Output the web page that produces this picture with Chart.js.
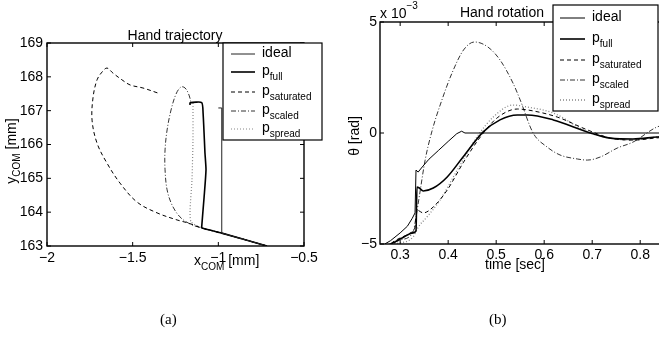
<!DOCTYPE html>
<html>
<head>
<meta charset="utf-8">
<script src="https://cdn.jsdelivr.net/npm/chart.js@4.4.1/dist/chart.umd.min.js"></script>
<style>
  html, body { margin: 0; padding: 0; background: #fff; overflow: hidden; }
  body { width: 659px; height: 343px; position: relative; }
  #wrapA { position: absolute; left: 0; top: 0; width: 330px; height: 343px; }
  #wrapB { position: absolute; left: 330px; top: 0; width: 345px; height: 343px; }
  .cap { position: absolute; top: 311px; font: 15px "Liberation Serif", "Times New Roman", serif; color: #000; }
</style>
</head>
<body>
<div id="wrapA"><canvas id="trajChart"></canvas></div>
<div id="wrapB"><canvas id="rotChart"></canvas></div>
<div class="cap" style="left:160px">(a)</div>
<div class="cap" style="left:489px">(b)</div>

<script>
// ---- (a) hand trajectory, x_COM / y_COM in mm ----
const trajIdealX = [-0.716, -0.98, -0.98, -1.0];
const trajIdealY = [163.0, 163.38, 167.08, 167.08];

const trajFullX = [-0.716, -0.98, -1.095, -1.097, -1.083, -1.072, -1.078, -1.089, -1.097, -1.165, -1.165];
const trajFullY = [163.0, 163.38, 163.53, 163.57, 164.45, 165.25, 165.75, 166.93, 167.24, 167.23, 167.17];

const trajSatX = [-0.716, -0.98, -1.095, -1.177, -1.241, -1.358, -1.475, -1.574, -1.650, -1.708, -1.737,
                  -1.731, -1.708, -1.679, -1.650, -1.615, -1.562, -1.515, -1.440, -1.352];
const trajSatY = [163.0, 163.38, 163.53, 163.68, 163.77, 163.98, 164.30, 164.86, 165.45, 166.04, 166.72,
                  167.40, 167.91, 168.14, 168.26, 168.11, 167.91, 167.76, 167.67, 167.52];

const trajScaledX = [-0.716, -0.98, -1.095, -1.165, -1.224, -1.270, -1.299, -1.311, -1.311, -1.299,
                     -1.276, -1.247, -1.218, -1.194, -1.171, -1.159];
const trajScaledY = [163.0, 163.38, 163.53, 163.65, 163.86, 164.21, 164.66, 165.25, 165.84, 166.43,
                     167.02, 167.49, 167.70, 167.67, 167.46, 167.23];

const trajSpreadX = [-0.716, -0.98, -1.095, -1.159, -1.165, -1.154, -1.148, -1.148];
const trajSpreadY = [163.0, 163.38, 163.53, 163.71, 164.06, 164.93, 166.13, 167.23];

const trajXTicks = [-2, -1.5, -1, -0.5];
const trajXTickLabels = ["\u22122", "\u22121.5", "\u22121", "\u22120.5"];
const trajYTicks = [163, 164, 165, 166, 167, 168, 169];
const trajYTickLabels = ["163", "164", "165", "166", "167", "168", "169"];

// ---- (b) hand rotation, theta in 1e-3 rad ----
const rotIdealT = [0.268, 0.28, 0.30, 0.315, 0.325, 0.331, 0.333, 0.3375, 0.346, 0.36, 0.38, 0.40, 0.418, 0.428, 0.435, 0.86];
const rotIdealV = [-5.0, -4.85, -4.5, -4.2, -3.85, -3.6, -1.67, -1.76, -1.53, -1.18, -0.78, -0.38, -0.03, 0.08, 0.0, 0.0];

const rotFullT = [0.27, 0.285, 0.304, 0.327, 0.333, 0.335, 0.340, 0.348, 0.369, 0.398, 0.431, 0.473,
                  0.508, 0.544, 0.565, 0.619, 0.690, 0.738, 0.785, 0.835, 0.86];
const rotFullV = [-5.1, -4.95, -4.73, -4.50, -4.41, -2.43, -2.48, -2.61, -2.48, -1.98, -1.08, 0.05,
                  0.59, 0.81, 0.81, 0.59, 0.05, -0.23, -0.27, -0.18, -0.15];

const rotSatT = [0.27, 0.285, 0.321, 0.331, 0.335, 0.348, 0.369, 0.398, 0.431, 0.467, 0.502, 0.544,
                 0.565, 0.627, 0.690, 0.738, 0.785, 0.835, 0.86];
const rotSatV = [-5.2, -4.91, -4.50, -4.23, -3.47, -3.60, -3.33, -2.57, -1.35, -0.18, 0.68, 1.08,
                 1.04, 0.72, 0.14, -0.23, -0.32, -0.22, -0.18];

const rotScaledT = [0.27, 0.300, 0.327, 0.332, 0.341, 0.352, 0.367, 0.387, 0.408, 0.432, 0.455, 0.483,
                    0.508, 0.535, 0.550, 0.577, 0.606, 0.633, 0.669, 0.690, 0.717, 0.752, 0.785, 0.835, 0.86];
const rotScaledV = [-5.1, -4.82, -4.46, -3.92, -2.70, -1.22, 0.14, 1.49, 2.70, 3.74, 4.10, 3.87,
                    3.29, 2.25, 1.49, 0.0, -0.63, -0.99, -1.17, -1.22, -1.08, -0.68, -0.41, 0.27, 0.40];

const rotSpreadT = [0.27, 0.279, 0.300, 0.327, 0.338, 0.356, 0.383, 0.419, 0.460, 0.494, 0.535, 0.565,
                    0.619, 0.690, 0.738, 0.785, 0.835, 0.86];
const rotSpreadV = [-5.1, -5.0, -4.95, -4.68, -4.23, -3.78, -3.02, -1.67, -0.18, 0.72, 1.26, 1.17,
                    0.90, 0.05, -0.23, -0.32, -0.18, -0.15];

const rotXTicks = [0.3, 0.4, 0.5, 0.6, 0.7, 0.8];
const rotXTickLabels = ["0.3", "0.4", "0.5", "0.6", "0.7", "0.8"];
const rotYTicks = [-5, 0, 5];
const rotYTickLabels = ["\u22125", "0", "5"];

const seriesLabels = ["ideal", "p_full", "p_saturated", "p_scaled", "p_spread"];

const FONT = '"Liberation Sans", Arial, Helvetica, sans-serif';

function pts(xs, ys) {
  return xs.map((x, i) => ({ x: x, y: ys[i] }));
}

// text with optional subscript / superscript pieces
function drawRich(ctx, parts, x, y, align) {
  let w = 0;
  parts.forEach(p => {
    ctx.font = p.size + "px " + FONT;
    p.w = ctx.measureText(p.t).width;
    w += p.w;
  });
  let cx = align === "center" ? x - w / 2 : x;
  ctx.textAlign = "left";
  ctx.textBaseline = "middle";
  parts.forEach(p => {
    ctx.font = p.size + "px " + FONT;
    ctx.fillText(p.t, cx, y + (p.dy || 0));
    cx += p.w;
  });
}

function labelParts(label) {
  const bits = label.split("_");
  const parts = [{ t: bits[0], size: 14, dy: -1 }];
  if (bits[1]) parts.push({ t: bits[1], size: 10, dy: 5 });
  return parts;
}

const framePlugin = {
  id: "frame",
  afterDraw(chart, args, o) {
    const { ctx, chartArea: a, scales } = chart;
    ctx.save();
    ctx.fillStyle = "#000";
    ctx.strokeStyle = "#000";

    // inward tick marks on all four sides
    ctx.lineWidth = 1;
    ctx.beginPath();
    scales.x.ticks.forEach(t => {
      const px = scales.x.getPixelForValue(t.value);
      ctx.moveTo(px, a.bottom); ctx.lineTo(px, a.bottom - 4);
      ctx.moveTo(px, a.top); ctx.lineTo(px, a.top + 4);
    });
    scales.y.ticks.forEach(t => {
      const py = scales.y.getPixelForValue(t.value);
      ctx.moveTo(a.left, py); ctx.lineTo(a.left + 4, py);
      ctx.moveTo(a.right, py); ctx.lineTo(a.right - 4, py);
    });
    ctx.stroke();

    // axes box
    ctx.lineWidth = 1.4;
    ctx.strokeRect(a.left, a.top, a.right - a.left, a.bottom - a.top);

    // legend
    const L = o.legend;
    ctx.fillStyle = "#fff";
    ctx.fillRect(L.x, L.y, L.w, L.h);
    ctx.lineWidth = 1.2;
    ctx.strokeRect(L.x, L.y, L.w, L.h);
    chart.data.datasets.forEach((ds, i) => {
      const ry = L.rows[i];
      ctx.save();
      ctx.strokeStyle = ds.borderColor;
      ctx.lineWidth = ds.borderWidth;
      ctx.setLineDash(ds.borderDash || []);
      ctx.beginPath();
      ctx.moveTo(L.s1, ry);
      ctx.lineTo(L.s2, ry);
      ctx.stroke();
      ctx.restore();
      ctx.fillStyle = "#000";
      drawRich(ctx, labelParts(ds.label), L.tx, ry, "left");
    });

    // title
    ctx.fillStyle = "#000";
    drawRich(ctx, [{ t: o.title.text, size: 14 }], o.title.x, o.title.y, "center");

    // axis labels
    drawRich(ctx, o.xLabel.parts, o.xLabel.x, o.xLabel.y, o.xLabel.align);
    ctx.save();
    ctx.translate(o.yLabel.x, o.yLabel.y);
    ctx.rotate(-Math.PI / 2);
    drawRich(ctx, o.yLabel.parts, 0, 0, "center");
    ctx.restore();

    if (o.exponent) {
      drawRich(ctx, o.exponent.parts, o.exponent.x, o.exponent.y, "left");
    }
    ctx.restore();
  }
};

function makeScales(xMin, xMax, xTicks, xLabels, yMin, yMax, yTicks, yLabels, yWidth, xHeight, xPad, yPad) {
  const tickFont = { family: FONT, size: 14 };
  return {
    x: {
      type: "linear",
      min: xMin,
      max: xMax,
      grid: { display: false, drawTicks: false },
      border: { display: false },
      afterBuildTicks: s => { s.ticks = xTicks.map(v => ({ value: v })); },
      afterFit: s => { s.height = xHeight; },
      ticks: {
        autoSkip: false,
        maxRotation: 0,
        padding: xPad,
        color: "#000",
        font: tickFont,
        callback: (v, i) => xLabels[i]
      }
    },
    y: {
      type: "linear",
      min: yMin,
      max: yMax,
      grid: { display: false, drawTicks: false },
      border: { display: false },
      afterBuildTicks: s => { s.ticks = yTicks.map(v => ({ value: v })); },
      afterFit: s => { s.width = yWidth; },
      ticks: {
        autoSkip: false,
        padding: yPad,
        color: "#000",
        font: tickFont,
        callback: (v, i) => yLabels[i]
      }
    }
  };
}

const baseOptions = {
  responsive: true,
  maintainAspectRatio: false,
  animation: false,
  events: [],
  elements: { point: { radius: 0 } }
};

/* ========================= */
/* (a) HAND TRAJECTORY       */
/* ========================= */

new Chart(document.getElementById("trajChart"), {
  type: "scatter",
  data: {
    datasets: [
      { label: seriesLabels[0], data: pts(trajIdealX, trajIdealY), showLine: true,
        borderColor: "#222", borderWidth: 1, tension: 0 },
      { label: seriesLabels[1], data: pts(trajFullX, trajFullY), showLine: true,
        borderColor: "#000", borderWidth: 1.6, tension: 0.2 },
      { label: seriesLabels[2], data: pts(trajSatX, trajSatY), showLine: true,
        borderColor: "#000", borderWidth: 1, borderDash: [4, 3], tension: 0.35 },
      { label: seriesLabels[3], data: pts(trajScaledX, trajScaledY), showLine: true,
        borderColor: "#333", borderWidth: 1, borderDash: [5, 2, 1, 2], tension: 0.35 },
      { label: seriesLabels[4], data: pts(trajSpreadX, trajSpreadY), showLine: true,
        borderColor: "#888", borderWidth: 1.2, borderDash: [1, 2], tension: 0.2 }
    ]
  },
  options: Object.assign({}, baseOptions, {
    layout: { padding: { left: 0, top: 43, right: 26, bottom: 0 } },
    plugins: {
      legend: { display: false },
      tooltip: { enabled: false },
      frame: {
        legend: { x: 223, y: 43, w: 99, h: 97, s1: 231, s2: 255, tx: 262, rows: [54, 72, 92, 111, 129] },
        title: { text: "Hand trajectory", x: 175, y: 36 },
        xLabel: { x: 194, y: 261, align: "left",
          parts: [{ t: "x", size: 14 }, { t: "COM", size: 10, dy: 6 }, { t: " [mm]", size: 14 }] },
        yLabel: { x: 12, y: 151,
          parts: [{ t: "y", size: 14 }, { t: "COM", size: 10, dy: 5 }, { t: " [mm]", size: 14 }] }
      }
    },
    scales: makeScales(-2, -0.5, trajXTicks, trajXTickLabels, 163, 169, trajYTicks, trajYTickLabels, 47, 97, 4, 4)
  }),
  plugins: [framePlugin]
});

/* ========================= */
/* (b) HAND ROTATION         */
/* ========================= */

new Chart(document.getElementById("rotChart"), {
  type: "scatter",
  data: {
    datasets: [
      { label: seriesLabels[0], data: pts(rotIdealT, rotIdealV), showLine: true,
        borderColor: "#000", borderWidth: 1, tension: 0 },
      { label: seriesLabels[1], data: pts(rotFullT, rotFullV), showLine: true,
        borderColor: "#000", borderWidth: 1.6, cubicInterpolationMode: "monotone" },
      { label: seriesLabels[2], data: pts(rotSatT, rotSatV), showLine: true,
        borderColor: "#000", borderWidth: 1, borderDash: [4, 3], cubicInterpolationMode: "monotone" },
      { label: seriesLabels[3], data: pts(rotScaledT, rotScaledV), showLine: true,
        borderColor: "#333", borderWidth: 1, borderDash: [5, 2, 1, 2], cubicInterpolationMode: "monotone" },
      { label: seriesLabels[4], data: pts(rotSpreadT, rotSpreadV), showLine: true,
        borderColor: "#888", borderWidth: 1.3, borderDash: [1, 2], cubicInterpolationMode: "monotone" }
    ]
  },
  options: Object.assign({}, baseOptions, {
    layout: { padding: { left: 0, top: 22, right: 6, bottom: 0 } },
    plugins: {
      legend: { display: false },
      tooltip: { enabled: false },
      frame: {
        legend: { x: 223, y: 5, w: 105, h: 106, s1: 230, s2: 255, tx: 262, rows: [18, 39, 60, 80, 100] },
        title: { text: "Hand rotation", x: 172, y: 13 },
        xLabel: { x: 185, y: 265, align: "center", parts: [{ t: "time [sec]", size: 14 }] },
        yLabel: { x: 25, y: 136, parts: [{ t: "\u03b8 [rad]", size: 14 }] },
        exponent: { x: 50, y: 14,
          parts: [{ t: "x 10", size: 14 }, { t: "\u22123", size: 10, dy: -8 }] }
      }
    },
    scales: makeScales(0.258, 0.86, rotXTicks, rotXTickLabels, -5, 5, rotYTicks, rotYTickLabels, 50, 99, 3, 3)
  }),
  plugins: [framePlugin]
});
</script>
</body>
</html>
